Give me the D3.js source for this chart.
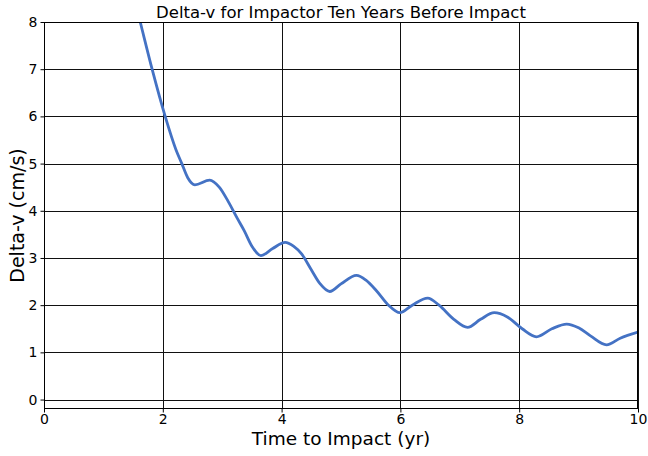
<!DOCTYPE html>
<html>
<head>
<meta charset="utf-8">
<script src="https://cdn.jsdelivr.net/npm/d3@7"></script>
<style>
  body { margin: 0; background: #fff; }
  svg { display: block; font-family: "DejaVu Sans", sans-serif; }
</style>
</head>
<body>
<div id="chart"></div>
<script>
// time to impact (yr) and delta-v (cm/s)
const years = [1.55, 1.62, 1.82, 2.04, 2.22, 2.32, 2.42, 2.54, 2.79, 2.95, 3.1, 3.25, 3.37, 3.5, 3.65,
  3.85, 4.06, 4.2, 4.34, 4.5, 4.65, 4.81, 5.0, 5.26, 5.42, 5.6, 5.8, 5.99, 6.2, 6.46, 6.65, 6.9,
  7.13, 7.35, 7.58, 7.8, 8.05, 8.29, 8.55, 8.8, 9.0, 9.2, 9.47, 9.7, 10];
const deltaV = [8.35, 8.0, 7.0, 6.0, 5.3, 5.0, 4.7, 4.55, 4.65, 4.5, 4.2, 3.85, 3.58, 3.25, 3.05,
  3.2, 3.33, 3.25, 3.08, 2.75, 2.45, 2.29, 2.45, 2.63, 2.53, 2.3, 2.0, 1.84, 2.0, 2.15, 2.0, 1.7,
  1.53, 1.7, 1.84, 1.75, 1.5, 1.33, 1.5, 1.6, 1.52, 1.35, 1.16, 1.3, 1.43];
const xTicks = [0, 2, 4, 6, 8, 10];
const yTicks = [0, 1, 2, 3, 4, 5, 6, 7, 8];

const data = years.map((t, i) => ({ t: t, v: deltaV[i] }));

const W = 648, H = 456;
const margin = { top: 22, right: 10, bottom: 47, left: 44 };
const width = W - margin.left - margin.right;
const height = H - margin.top - margin.bottom;

const svg = d3.select("#chart")
    .append("svg")
    .attr("width", W)
    .attr("height", H);

const g = svg.append("g")
    .attr("transform", `translate(${margin.left},${margin.top})`);

const x = d3.scaleLinear().domain([0, 10]).range([0, width]);
const y = d3.scaleLinear().domain([-0.2, 8]).range([height, 0]);

// grid
g.append("g")
    .selectAll("line.h")
    .data(yTicks)
    .enter()
    .append("line")
    .attr("x1", 0).attr("x2", width)
    .attr("y1", d => Math.round(y(d)) + 0.5)
    .attr("y2", d => Math.round(y(d)) + 0.5)
    .attr("stroke", "#111")
    .attr("stroke-width", 1);

g.append("g")
    .selectAll("line.v")
    .data(xTicks)
    .enter()
    .append("line")
    .attr("y1", 0).attr("y2", height)
    .attr("x1", d => Math.round(x(d)) + 0.5)
    .attr("x2", d => Math.round(x(d)) + 0.5)
    .attr("stroke", "#111")
    .attr("stroke-width", 1);

g.append("clipPath")
    .attr("id", "clip")
    .append("rect")
    .attr("width", width)
    .attr("height", height);

const line = d3.line()
    .x(d => x(d.t))
    .y(d => y(d.v))
    .curve(d3.curveMonotoneX);

g.append("path")
    .datum(data)
    .attr("clip-path", "url(#clip)")
    .attr("fill", "none")
    .attr("stroke", "#4472c4")
    .attr("stroke-width", 2.8)
    .attr("d", line);

// axes
const xAxis = g.append("g")
    .attr("transform", `translate(0,${height})`)
    .call(d3.axisBottom(x).tickValues(xTicks).tickSize(3.5).tickPadding(2).tickFormat(d3.format("d")));

const yAxis = g.append("g")
    .call(d3.axisLeft(y).tickValues(yTicks).tickSize(3.5).tickPadding(3).tickFormat(d3.format("d")));

[xAxis, yAxis].forEach(a => {
    a.select(".domain").remove();
    a.selectAll(".tick line").attr("stroke", "#000");
    a.selectAll(".tick text")
        .attr("fill", "#000")
        .style("font-family", "DejaVu Sans, sans-serif")
        .style("font-size", "14px");
});

// frame
g.append("rect")
    .attr("x", 0.5).attr("y", 0.5)
    .attr("width", width - 1).attr("height", height - 1)
    .attr("fill", "none")
    .attr("stroke", "#000")
    .attr("stroke-width", 1);

svg.append("text")
    .attr("x", margin.left + width / 2)
    .attr("y", 18)
    .attr("text-anchor", "middle")
    .style("font-size", "16.5px")
    .text("Delta-v for Impactor Ten Years Before Impact");

svg.append("text")
    .attr("x", margin.left + width / 2)
    .attr("y", 445)
    .attr("text-anchor", "middle")
    .style("font-size", "18.5px")
    .text("Time to Impact (yr)");

svg.append("text")
    .attr("transform", `translate(24,${margin.top + height / 2}) rotate(-90)`)
    .attr("text-anchor", "middle")
    .style("font-size", "19px")
    .text("Delta-v (cm/s)");
</script>
</body>
</html>
